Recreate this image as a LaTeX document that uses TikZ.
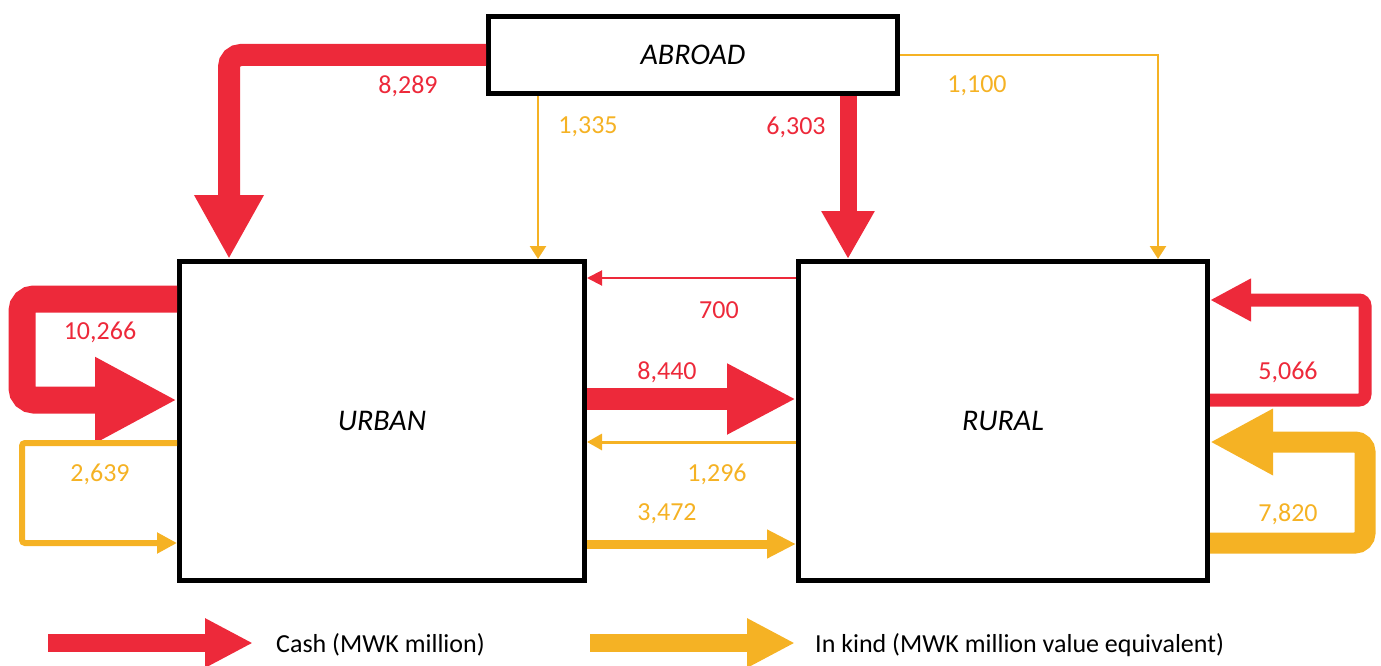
\documentclass[tikz,border=0pt]{standalone}
\usepackage{fontspec}
\setmainfont{Carlito}
\usetikzlibrary{arrows.meta}
\definecolor{cashred}{RGB}{237,41,58}
\definecolor{kindyel}{RGB}{245,178,36}
\tikzset{
  box/.style={draw, line width=5pt, inner sep=0pt, font=\fontsize{30}{34}\selectfont\itshape},
  cash/.style={draw=cashred},
  kind/.style={draw=kindyel},
  hd/.style n args={2}{-{Triangle[length=#1pt,width=#2pt]}},
  lab/.style={font=\fontsize{26}{30}\selectfont, inner sep=0pt},
  redlab/.style={lab, text=cashred},
  yellab/.style={lab, text=kindyel},
  leg/.style={font=\fontsize{26}{30}\selectfont, inner sep=0pt, anchor=west}
}
\begin{document}
\begin{tikzpicture}[x=1pt,y=-1pt]
\useasboundingbox (0,0) rectangle (1381,666);
% boxes
\node[box, minimum width=409pt, minimum height=77pt] (abroad) at (693,55) {ABROAD};
\node[box, minimum width=405pt, minimum height=319pt] (urban) at (382,421) {URBAN};
\node[box, minimum width=409pt, minimum height=319pt] (rural) at (1003,421) {RURAL};
% helper coordinates
\coordinate (xa) at (229,0);
\coordinate (xb) at (538,0);
\coordinate (xc) at (848,0);
\coordinate (xd) at (1158,0);
\coordinate (y278) at (0,278);
\coordinate (y300) at (0,300);
\coordinate (y299) at (0,299);
\coordinate (y399) at (0,399);
\coordinate (y400) at (0,400);
\coordinate (y442) at (0,442);
\coordinate (y443) at (0,443);
\coordinate (y543) at (0,543);
\coordinate (y544) at (0,544);
\coordinate (ul) at (22,0);
\coordinate (rl) at (1365,0);
% abroad flows
\draw[cash, line width=22pt, rounded corners=12pt, hd={64}{65}] (abroad.west) -| (urban.north -| xa);
\draw[kind, line width=2.5pt, hd={13}{16}] (abroad.south -| xb) -- (urban.north -| xb);
\draw[cash, line width=17pt, hd={48}{50}] (abroad.south -| xc) -- (rural.north -| xc);
\draw[kind, line width=2.5pt, hd={13}{16}] (abroad.east) -| (rural.north -| xd);
% between urban and rural
\draw[cash, line width=2pt, hd={15}{15}] (rural.west |- y278) -- (urban.east |- y278);
\draw[cash, line width=22pt, hd={69}{66}] (urban.east |- y399) -- (rural.west |- y399);
\draw[kind, line width=3pt, hd={15}{16}] (rural.west |- y442) -- (urban.east |- y442);
\draw[kind, line width=9pt, hd={29}{27}] (urban.east |- y544) -- (rural.west |- y544);
% urban self loops
\draw[cash, line width=27pt, rounded corners=12pt, hd={82}{80}] (urban.west |- y299) -- (ul |- y299) -- (ul |- y400) -- (urban.west |- y400);
\draw[kind, line width=6pt, rounded corners=3pt, hd={20}{20}] (urban.west |- y443) -- (ul |- y443) -- (ul |- y543) -- (urban.west |- y543);
% rural self loops
\draw[cash, line width=13pt, rounded corners=6pt, hd={41}{40}] (rural.east |- y400) -- (rl |- y400) -- (rl |- y300) -- (rural.east |- y300);
\draw[kind, line width=21pt, rounded corners=10pt, hd={63}{62}] (rural.east |- y543) -- (rl |- y543) -- (rl |- y442) -- (rural.east |- y442);
% labels
\node[redlab] (l8289) at (408,86) {8,289};
\node[yellab] (l1335) at (588,127) {1,335};
\node[redlab] (l6303) at (796,127) {6,303};
\node[yellab] (l1100) at (977,86) {1,100};
\node[redlab] (l700) at (719,310) {700};
\node[redlab] (l8440) at (667,372) {8,440};
\node[yellab] (l1296) at (717,474) {1,296};
\node[yellab] (l3472) at (667,514) {3,472};
\node[redlab] (l10266) at (100,332) {10,266};
\node[yellab] (l2639) at (100,474) {2,639};
\node[redlab] (l5066) at (1288,372) {5,066};
\node[yellab] (l7820) at (1288,514) {7,820};
% legend
\coordinate (c1) at (48,643);
\coordinate (c2) at (253,643);
\coordinate (k1) at (590,643);
\coordinate (k2) at (795,643);
\draw[cash, line width=18pt, hd={48}{46}] (c1) -- (c2);
\draw[kind, line width=18pt, hd={48}{46}] (k1) -- (k2);
\node[leg] (tcash) at (276,645) {Cash (MWK million)};
\node[leg] (tkind) at (815,645) {In kind (MWK million value equivalent)};
\end{tikzpicture}
\end{document}
